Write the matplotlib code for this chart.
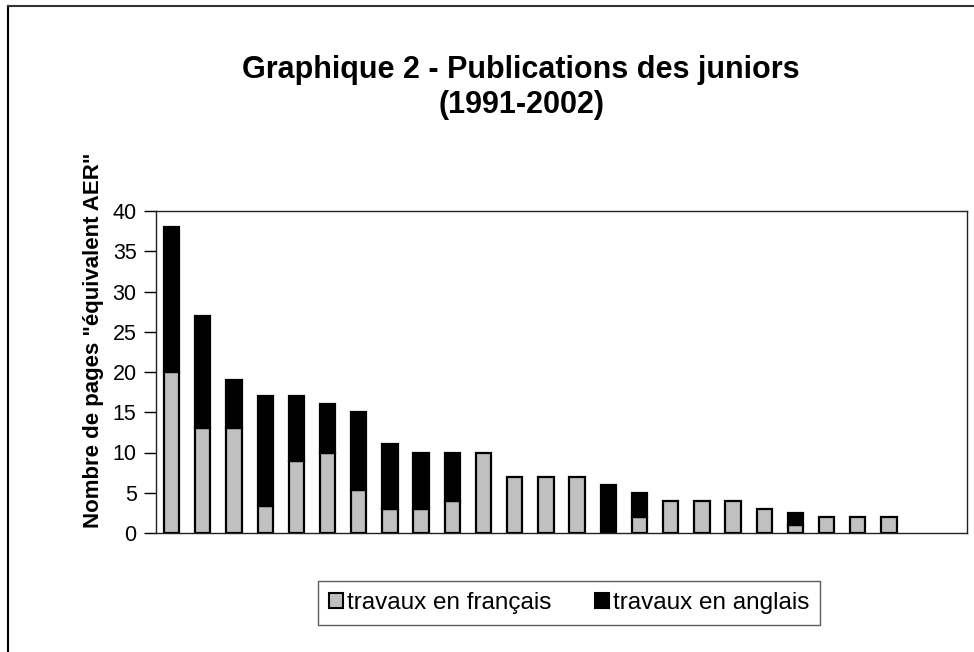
import numpy as np
import matplotlib.pyplot as plt
from matplotlib.lines import Line2D
from matplotlib.patches import Patch

plt.rcParams['font.family'] = ['Liberation Sans', 'DejaVu Sans']

# one bar per junior, sorted by total pages; two empty category slots at the end
juniors = [str(i) for i in range(1, 25)]
francais = [20, 13, 13, 3.4, 9, 10, 5.4, 3, 3, 4, 10, 7, 7, 7, 0, 2, 4, 4, 4, 3, 1, 2, 2, 2]
anglais = [18, 14, 6, 13.6, 8, 6, 9.6, 8, 7, 6, 0, 0, 0, 0, 6, 3, 0, 0, 0, 0, 1.5, 0, 0, 0]
n_slots = 26
yticks = [0, 5, 10, 15, 20, 25, 30, 35, 40]

W, H = 974, 652
fig = plt.figure(figsize=(W / 100, H / 100), dpi=100)
ax = fig.add_axes([156 / W, (H - 533) / H, (967 - 156) / W, (533 - 211) / H])

x = np.arange(len(juniors))
fr = np.array(francais)
en = np.array(anglais)
width = 0.49

mask_fr = fr > 0
ax.bar(x[mask_fr], fr[mask_fr], width, color='#c0c0c0', edgecolor='black', linewidth=1.6, zorder=2)
mask_en = en > 0
ax.bar(x[mask_en], en[mask_en], width, bottom=fr[mask_en], color='black', edgecolor='black', linewidth=1.6, zorder=2)

ax.set_xlim(-0.5, n_slots - 0.5)
ax.set_ylim(0, 40)
ax.set_yticks(yticks)
ax.set_xticks([])
ax.tick_params(axis='y', direction='out', length=9, width=1, labelsize=15.5, pad=5)
for s in ax.spines.values():
    s.set_linewidth(1)
    s.set_color('#222222')

fig.text(0.535, 1 - 70 / H, 'Graphique 2 - Publications des juniors', ha='center', va='center',
         fontsize=22, fontweight='bold')
fig.text(0.535, 1 - 105 / H, '(1991-2002)', ha='center', va='center',
         fontsize=22, fontweight='bold')
fig.text(94 / W, 1 - 340 / H, 'Nombre de pages "équivalent AER"', rotation=90,
         ha='center', va='center', fontsize=16, fontweight='bold')

handles = [Patch(facecolor='#c0c0c0', edgecolor='black', linewidth=1.5, label='travaux en français'),
           Patch(facecolor='black', edgecolor='black', linewidth=1.5, label='travaux en anglais')]
leg = fig.legend(handles=handles, loc='center', bbox_to_anchor=(569 / W, 1 - 603 / H), ncol=2,
                 fontsize=17.5, frameon=True, fancybox=False, handlelength=0.6, handleheight=0.6,
                 handletextpad=0.15, columnspacing=1.8, borderpad=0.45)
leg.get_frame().set_edgecolor('#333333')
leg.get_frame().set_linewidth(1)

# outer chart border (right and bottom edges fall outside the picture)
fig.add_artist(Line2D([8 / W, 8 / W], [0, 1 - 6 / H], color='black', lw=1.5))
fig.add_artist(Line2D([8 / W, 1], [1 - 6 / H, 1 - 6 / H], color='#333333', lw=1.5))

fig.savefig('out.png', dpi=100)
